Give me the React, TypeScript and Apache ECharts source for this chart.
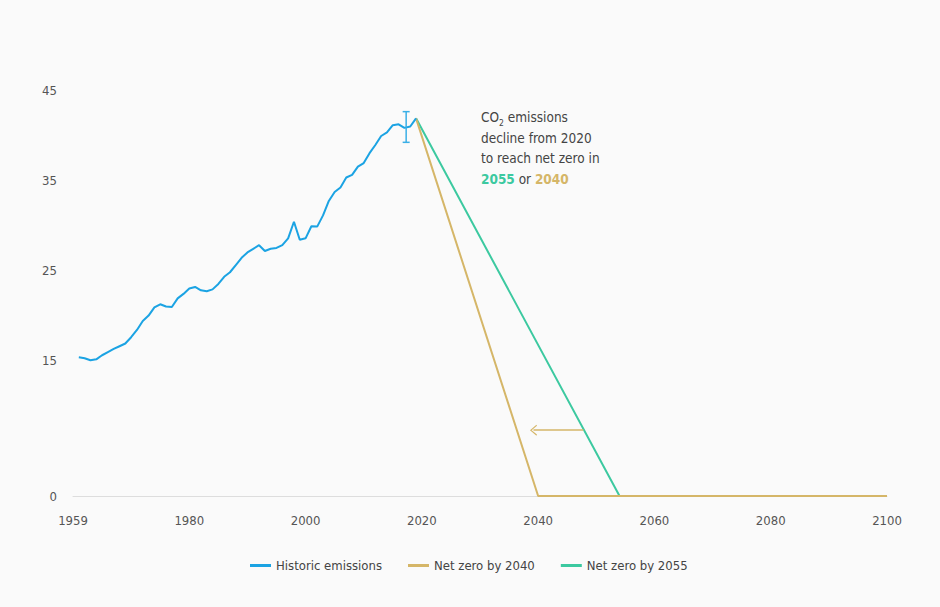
import React, { useEffect, useRef } from "react";
import * as echarts from "echarts";

const historicYears = [
  1961, 1962, 1963, 1964, 1965, 1966, 1967, 1968, 1969, 1970,
  1971, 1972, 1973, 1974, 1975, 1976, 1977, 1978, 1979, 1980,
  1981, 1982, 1983, 1984, 1985, 1986, 1987, 1988, 1989, 1990,
  1991, 1992, 1993, 1994, 1995, 1996, 1997, 1998, 1999, 2000,
  2001, 2002, 2003, 2004, 2005, 2006, 2007, 2008, 2009, 2010,
  2011, 2012, 2013, 2014, 2015, 2016, 2017, 2018, 2019,
];
const historicValues = [
  15.37, 15.26, 15.04, 15.15, 15.6, 15.95, 16.3, 16.6, 16.9, 17.6,
  18.4, 19.4, 20.0, 20.9, 21.25, 21.0, 20.95, 21.9, 22.4, 23.0,
  23.17, 22.8, 22.7, 22.9, 23.5, 24.3, 24.8, 25.6, 26.4, 27.0,
  27.4, 27.8, 27.16, 27.4, 27.5, 27.8, 28.56, 30.4, 28.4, 28.56,
  29.9, 29.86, 31.1, 32.7, 33.7, 34.2, 35.3, 35.6, 36.5, 36.9,
  38.0, 38.9, 39.9, 40.3, 41.1, 41.2, 40.8, 40.95, 41.86,
];
const netZero2040Years = [2019, 2040, 2100];
const netZero2040Values = [41.86, 0, 0];
const netZero2055Years = [2019, 2054, 2100];
const netZero2055Values = [41.86, 0, 0];
const errorBar = [2017.3, 39.2, 42.6];
const arrowFrom = [2047.8, 7.3];
const arrowTo = [2039.2, 7.3];
const yTickLabels = [0, 15, 25, 35, 45];
const seriesNames = ["Historic emissions", "Net zero by 2040", "Net zero by 2055"];

const BLUE = "#1ba3e3";
const GOLD = "#d5b668";
const GREEN = "#3cc9a0";
const FONT = "'Liberation Sans Narrow', 'DejaVu Sans Condensed', Roboto, sans-serif";

export default function App() {
  const ref = useRef<HTMLDivElement>(null);
  useEffect(() => {
    if (!ref.current) return;
    const chart = echarts.init(ref.current, null, { renderer: "svg" });
    const zip = (xs: number[], ys: number[]) => xs.map((x, i) => [x, ys[i]]);
    chart.setOption({
      animation: false,
      backgroundColor: "#fafafa",
      textStyle: { fontFamily: FONT },
      grid: { left: 73, right: 53, top: 90, bottom: 111 },
      xAxis: {
        type: "value",
        min: 1960,
        max: 2100,
        interval: 20,
        axisLine: { show: true, lineStyle: { color: "#dddddd", width: 1 } },
        axisTick: { show: false },
        splitLine: { show: false },
        axisLabel: {
          color: "#555",
          fontSize: 13,
          margin: 18,
          fontFamily: FONT,
          formatter: (v: number) => (v === 1960 ? "1959" : String(v)),
        },
      },
      yAxis: {
        type: "value",
        min: 0,
        max: 45,
        interval: 5,
        axisLine: { show: false },
        axisTick: { show: false },
        splitLine: { show: false },
        axisLabel: {
          color: "#555",
          fontSize: 13,
          margin: 16,
          fontFamily: FONT,
          formatter: (v: number) => (yTickLabels.indexOf(v) >= 0 ? String(v) : ""),
        },
      },
      legend: {
        data: seriesNames,
        left: 245,
        top: 554,
        icon: "rect",
        itemWidth: 21,
        itemHeight: 3,
        itemGap: 26,
        textStyle: { color: "#444", fontSize: 13, fontFamily: FONT },
      },
      graphic: [
        {
          type: "text",
          left: 481,
          top: 110,
          style: {
            text:
              "{a|CO}{s|2}{a| emissions}\n{a|decline from 2020}\n{a|to reach net zero in}\n{g|2055}{a| or }{o|2040}",
            rich: {
              a: { fontSize: 13.5, lineHeight: 20.7, fill: "#444", fontFamily: FONT },
              s: { fontSize: 8.5, lineHeight: 20.7, fill: "#444", verticalAlign: "bottom", fontFamily: FONT },
              g: { fontSize: 13.5, lineHeight: 20.7, fill: GREEN, fontWeight: "bold", fontFamily: FONT },
              o: { fontSize: 13.5, lineHeight: 20.7, fill: GOLD, fontWeight: "bold", fontFamily: FONT },
            },
          },
        },
      ],
      series: [
        {
          name: seriesNames[0],
          type: "line",
          data: zip(historicYears, historicValues),
          showSymbol: false,
          symbol: "none",
          lineStyle: { color: BLUE, width: 2 },
          itemStyle: { color: BLUE },
          z: 3,
        },
        {
          name: seriesNames[2],
          type: "line",
          data: zip(netZero2055Years, netZero2055Values),
          showSymbol: false,
          symbol: "none",
          lineStyle: { color: GREEN, width: 2 },
          itemStyle: { color: GREEN },
          z: 2,
        },
        {
          name: seriesNames[1],
          type: "line",
          data: zip(netZero2040Years, netZero2040Values),
          showSymbol: false,
          symbol: "none",
          lineStyle: { color: GOLD, width: 2 },
          itemStyle: { color: GOLD },
          z: 2,
          markLine: {
            silent: true,
            symbol: ["none", "path://M0,10 L5,0 L10,10 L9,10.9 L5,2.6 L1,10.9 Z"],
            symbolSize: [11, 7],
            label: { show: false },
            lineStyle: { color: GOLD, width: 1.5, type: "solid" },
            data: [[{ coord: arrowFrom }, { coord: arrowTo }]],
          },
        },
        {
          type: "custom",
          name: "errorbar",
          data: [errorBar],
          encode: { x: 0, y: [1, 2] },
          z: 4,
          renderItem: (params: any, api: any) => {
            const x = api.value(0);
            const lo = api.coord([x, api.value(1)]);
            const hi = api.coord([x, api.value(2)]);
            const w = 3.5;
            const style = { stroke: "#3aafe6", lineWidth: 1.5 };
            return {
              type: "group",
              children: [
                { type: "line", shape: { x1: lo[0], y1: lo[1], x2: hi[0], y2: hi[1] }, style },
                { type: "line", shape: { x1: lo[0] - w, y1: lo[1], x2: lo[0] + w, y2: lo[1] }, style },
                { type: "line", shape: { x1: hi[0] - w, y1: hi[1], x2: hi[0] + w, y2: hi[1] }, style },
              ],
            };
          },
        },
      ],
    });
    return () => chart.dispose();
  }, []);
  return (
    <div
      ref={ref}
      style={{ position: "absolute", left: 0, top: 0, width: 940, height: 607, background: "#fafafa" }}
    />
  );
}
